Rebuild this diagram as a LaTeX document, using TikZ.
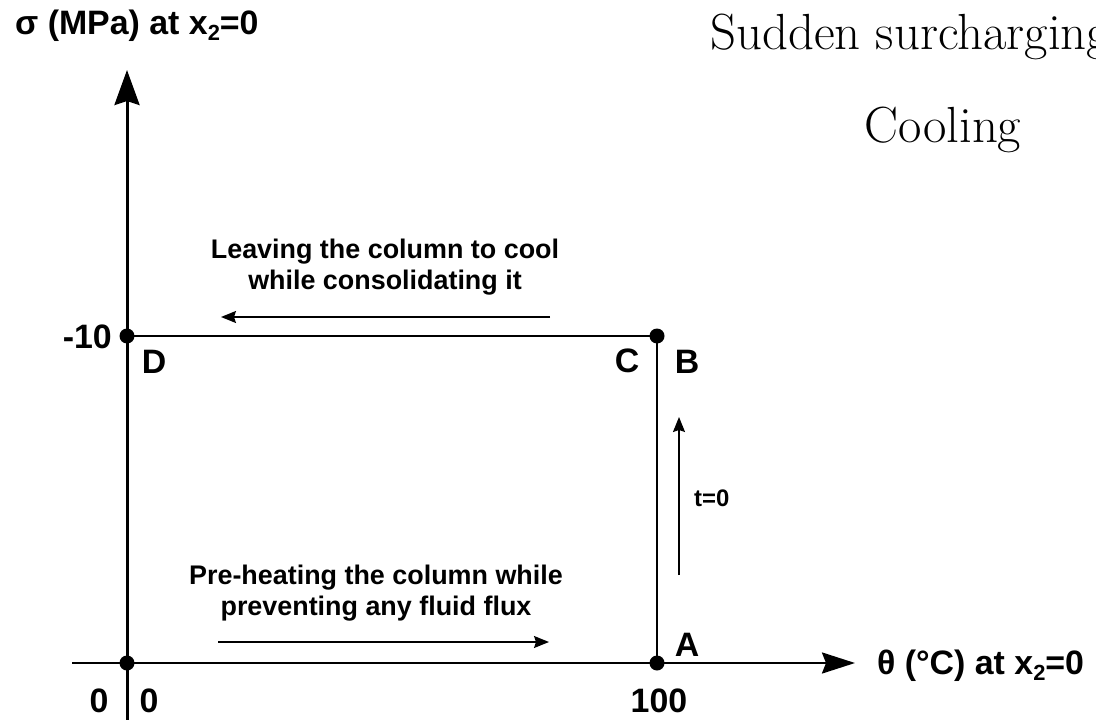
\documentclass[tikz,border=0pt]{standalone}
\usepackage{fontspec}
\newfontfamily\arialfont{Liberation Sans}
\usetikzlibrary{arrows.meta}
\newcommand\subtwo[1]{\raisebox{-0.3ex}{\fontsize{#1}{#1}\selectfont 2}}
\tikzset{
  phrase/.style={font=\arialfont\bfseries\fontsize{27}{31}\selectfont, inner sep=0pt},
  lbl/.style={font=\arialfont\bfseries\fontsize{34}{38}\selectfont, inner sep=0pt},
  axlbl/.style={font=\arialfont\bfseries\fontsize{34}{38}\selectfont, inner sep=0pt},
  serifbig/.style={font=\fontsize{51}{58}\selectfont, inner sep=0pt},
  dot/.style={circle, fill=black, minimum size=15bp, inner sep=0pt},
  smallarrow/.style={line width=1.5bp, -{Stealth[length=15bp,width=12bp,inset=2bp]}},
}
\begin{document}
\begin{tikzpicture}[x=1bp,y=-1bp]
\useasboundingbox (0,0) rectangle (1096,720);
% dots
\node[dot] (O) at (127,663) {};
\node[dot] (A) at (657,663) {};
\node[dot] (B) at (657,336) {};
\node[dot] (D) at (127,336) {};
\coordinate (ybot) at (127,725);
\coordinate (ytop) at (127,70);
\coordinate (xleft) at (72,663);
\coordinate (xright) at (855,663);
% axes
\draw[line width=3bp, -{Stealth[length=35bp,width=25bp,inset=4bp]}] (ybot) -- (ytop);
\draw[line width=2.5bp, -{Stealth[length=33bp,width=21bp,inset=4bp]}] (xleft) -- (xright);
% path
\draw[line width=2bp] (D.center) -- (B.center);
\draw[line width=1.5bp] (B.center) -- (A.center);
% process arrows
\coordinate (l1) at (550,317); \coordinate (l2) at (221,317);
\draw[smallarrow] (l1) -- (l2);
\coordinate (p1) at (218,642); \coordinate (p2) at (549,642);
\draw[smallarrow] (p1) -- (p2);
\coordinate (t1) at (679,575); \coordinate (t2) at (679,417);
\draw[smallarrow] (t1) -- (t2);
% labels
\node[axlbl, anchor=west] (ylab) at (15,26) {σ (MPa) at x\subtwo{22}=0};
\node[axlbl, anchor=west] (xlab) at (877,666) {θ (°C) at x\subtwo{22}=0};
\node[lbl, anchor=east] (m10) at (112,337) {-10};
\node[lbl] (Dl) at (154,362) {D};
\node[lbl] (Cl) at (627,361) {C};
\node[lbl] (Bl) at (687,362) {B};
\node[lbl] (Al) at (687,645) {A};
\node[lbl] (z1) at (99,701) {0};
\node[lbl] (z2) at (149,701) {0};
\node[lbl] (h) at (659,701) {100};
\node[phrase, font=\arialfont\bfseries\fontsize{24}{28}\selectfont, anchor=west] (t0) at (694,498) {t=0};
\node[phrase, align=center] (leave) at (385,267) {Leaving the column to cool\\while consolidating it};
\node[phrase, align=center] (pre) at (376,593) {Pre-heating the column while\\preventing any fluid flux};
\node[serifbig, anchor=west] (sud) at (710,37) {Sudden surcharging};
\node[serifbig] (cool) at (943,130) {Cooling};
\end{tikzpicture}
\end{document}
